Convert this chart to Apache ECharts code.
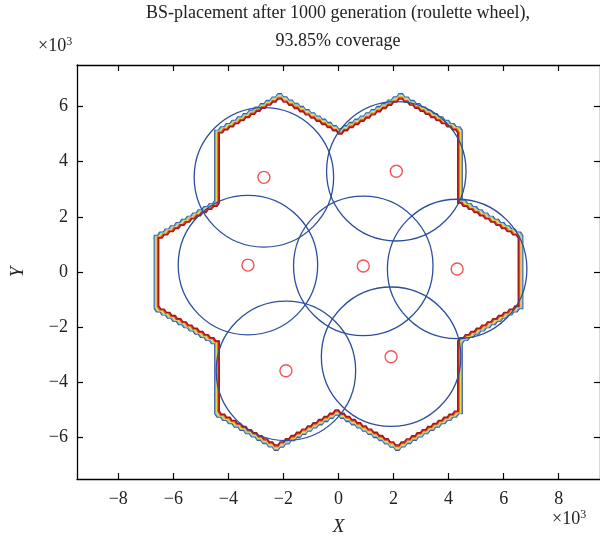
<!DOCTYPE html>
<html><head><meta charset="utf-8">
<script src="https://cdn.jsdelivr.net/npm/echarts@6/dist/echarts.min.js"></script>
<style>html,body{margin:0;padding:0;background:#fff}#c{width:600px;height:541px}</style>
</head><body><div id="c"></div>
<script>
// ---- data (units: x10^3) ----
const titleLines = ['BS-placement after 1000 generation (roulette wheel),', '93.85% coverage'];
const stationX = [-2.71, 2.10, -3.29, 0.90, 4.31, -1.91, 1.91];
const stationY = [3.43, 3.65, 0.25, 0.22, 0.11, -3.58, -3.07];
const coverageRadius = [2.53, 2.53, 2.53, 2.53, 2.53, 2.53, 2.53];
const areaX = [-2.2, 0, 2.2, 4.4, 4.4, 6.6, 6.6, 4.4, 4.4, 2.2, 0, -2.2, -4.4, -4.4, -6.6, -6.6, -4.4, -4.4];
const areaY = [6.35, 5.08, 6.35, 5.08, 2.54, 1.27, -1.27, -2.54, -5.08, -6.35, -5.08, -6.35, -5.08, -2.54, -1.27, 1.27, 2.54, 5.08];
const xTicks = [-8, -6, -4, -2, 0, 2, 4, 6, 8];
const yTicks = [-6, -4, -2, 0, 2, 4, 6];

// ---- styles ----
const FONT = '"Liberation Serif", "DejaVu Serif", serif';
const bands = [
  {k: 2.6, c: '#3a5ca8', w: 1.3},
  {k: 1.7, c: '#5ab0d6', w: 1.1},
  {k: 0.8, c: '#dfe048', w: 1.1},
  {k: -0.1, c: '#f29a30', w: 1.1},
  {k: -1.0, c: '#d8301e', w: 1.4},
  {k: -1.9, c: '#a01a18', w: 1.4}
];

const fmt = v => String(v).replace('-', '\u2212');

function boundaryRender(params, api) {
  if (params.dataIndex !== 0) return;
  const P = areaX.map((x, i) => api.coord([x, areaY[i]]));
  const n = P.length;
  let A = 0;
  for (let i = 0; i < n; i++) { const a = P[i], b = P[(i + 1) % n]; A += a[0] * b[1] - b[0] * a[1]; }
  const normals = [];
  for (let i = 0; i < n; i++) {
    const a = P[i], b = P[(i + 1) % n];
    const dx = b[0] - a[0], dy = b[1] - a[1], L = Math.hypot(dx, dy);
    const ux = dx / L, uy = dy / L;
    normals.push(A > 0 ? [uy, -ux] : [-uy, ux]);
  }
  const children = [];
  bands.forEach(bd => {
    const Q = [];
    for (let i = 0; i < n; i++) {
      const n1 = normals[(i - 1 + n) % n], n2 = normals[i];
      const d = 1 + n1[0] * n2[0] + n1[1] * n2[1];
      Q.push([P[i][0] + bd.k * (n1[0] + n2[0]) / d, P[i][1] + bd.k * (n1[1] + n2[1]) / d]);
    }
    const pts = [];
    for (let i = 0; i < n; i++) {
      const a = Q[i], b = Q[(i + 1) % n];
      const dx = b[0] - a[0], dy = b[1] - a[1];
      pts.push(a);
      if (Math.abs(dx) > 2 && Math.abs(dy) > 2) {
        const m = Math.max(1, Math.round(Math.abs(dx) / 5.5));
        for (let s = 0; s < m; s++) {
          const x0 = a[0] + dx * s / m, x1 = a[0] + dx * (s + 1) / m;
          const y0 = a[1] + dy * s / m, y1 = a[1] + dy * (s + 1) / m;
          pts.push([x0 + (x1 - x0) * 0.6, y0]);
          pts.push([x1, y1]);
        }
      }
    }
    pts.push(Q[0]);
    children.push({type: 'polyline', shape: {points: pts}, style: {fill: null, stroke: bd.c, lineWidth: bd.w, lineJoin: 'miter'}, silent: true});
  });
  return {type: 'group', children};
}

function circleRender(params, api) {
  const c = api.coord([api.value(0), api.value(1)]);
  const s = api.size([api.value(2), api.value(2)]);
  return {type: 'circle', shape: {cx: c[0], cy: c[1], r: (s[0] + s[1]) / 2}, style: {fill: null, stroke: '#2d4e9e', lineWidth: 1.3}, silent: true};
}

const axisCommon = {
  type: 'value',
  axisLine: {show: true, onZero: false, lineStyle: {color: '#000', width: 1.3}},
  splitLine: {show: false}
};

const chart = echarts.init(document.getElementById('c'), null, {renderer: 'canvas'});
chart.setOption({
  animation: false,
  backgroundColor: '#fff',
  grid: {left: 75, top: 65, width: 526, height: 416, containLabel: false},
  xAxis: [
    Object.assign({}, axisCommon, {
      min: -9.5, max: 9.5, position: 'bottom',
      axisTick: {show: true, inside: true, length: 6, customValues: xTicks, lineStyle: {color: '#000', width: 1.2}},
      axisLabel: {show: true, customValues: xTicks, formatter: fmt, margin: 11, fontFamily: FONT, fontSize: 18, color: '#222'},
      name: 'X', nameLocation: 'middle', nameGap: 38,
      nameTextStyle: {fontFamily: FONT, fontStyle: 'italic', fontSize: 19, color: '#222'}
    }),
    Object.assign({}, axisCommon, {
      min: -9.5, max: 9.5, position: 'top',
      axisTick: {show: true, inside: true, length: 6, customValues: xTicks, lineStyle: {color: '#000', width: 1.2}},
      axisLabel: {show: false}
    })
  ],
  yAxis: [
    Object.assign({}, axisCommon, {
      min: -7.5, max: 7.5, position: 'left',
      axisTick: {show: true, inside: true, length: 6, customValues: yTicks, lineStyle: {color: '#000', width: 1.2}},
      axisLabel: {show: true, customValues: yTicks, formatter: fmt, margin: 9, fontFamily: FONT, fontSize: 18, color: '#222'},
      name: 'Y', nameLocation: 'middle', nameGap: 50,
      nameTextStyle: {fontFamily: FONT, fontStyle: 'italic', fontSize: 19, color: '#222'}
    }),
    Object.assign({}, axisCommon, {
      min: -7.5, max: 7.5, position: 'right',
      axisTick: {show: true, inside: true, length: 6, customValues: yTicks, lineStyle: {color: '#000', width: 1.2}},
      axisLabel: {show: false}
    })
  ],
  graphic: [
    {type: 'text', x: 338, y: 4, style: {text: titleLines[0], fontFamily: FONT, fontSize: 18, fill: '#222', align: 'center'}, z: 10},
    {type: 'text', x: 338, y: 32, style: {text: titleLines[1], fontFamily: FONT, fontSize: 18, fill: '#222', align: 'center'}, z: 10},
    {type: 'text', x: 38, y: 36, style: {text: '\u00d710{s|3}', fontFamily: FONT, fontSize: 18, fill: '#222', rich: {s: {fontFamily: FONT, fontSize: 12, verticalAlign: 'top', padding: [0, 0, 8, 0]}}}, z: 10},
    {type: 'text', x: 552, y: 509, style: {text: '\u00d710{s|3}', fontFamily: FONT, fontSize: 18, fill: '#222', rich: {s: {fontFamily: FONT, fontSize: 12, verticalAlign: 'top', padding: [0, 0, 8, 0]}}}, z: 10}
  ],
  series: [
    {type: 'custom', xAxisIndex: 0, yAxisIndex: 0, renderItem: boundaryRender, data: [[areaX[0], areaY[0]]], clip: false, z: 2},
    {type: 'custom', xAxisIndex: 0, yAxisIndex: 0, renderItem: circleRender,
      data: stationX.map((x, i) => [x, stationY[i], coverageRadius[i]]), clip: false, z: 3},
    {type: 'scatter', xAxisIndex: 0, yAxisIndex: 0, symbol: 'circle', symbolSize: 12,
      data: stationX.map((x, i) => [x, stationY[i]]),
      itemStyle: {color: 'rgba(0,0,0,0)', borderColor: '#ee2a2a', borderWidth: 1.4}, z: 4}
  ]
});
</script></body></html>
